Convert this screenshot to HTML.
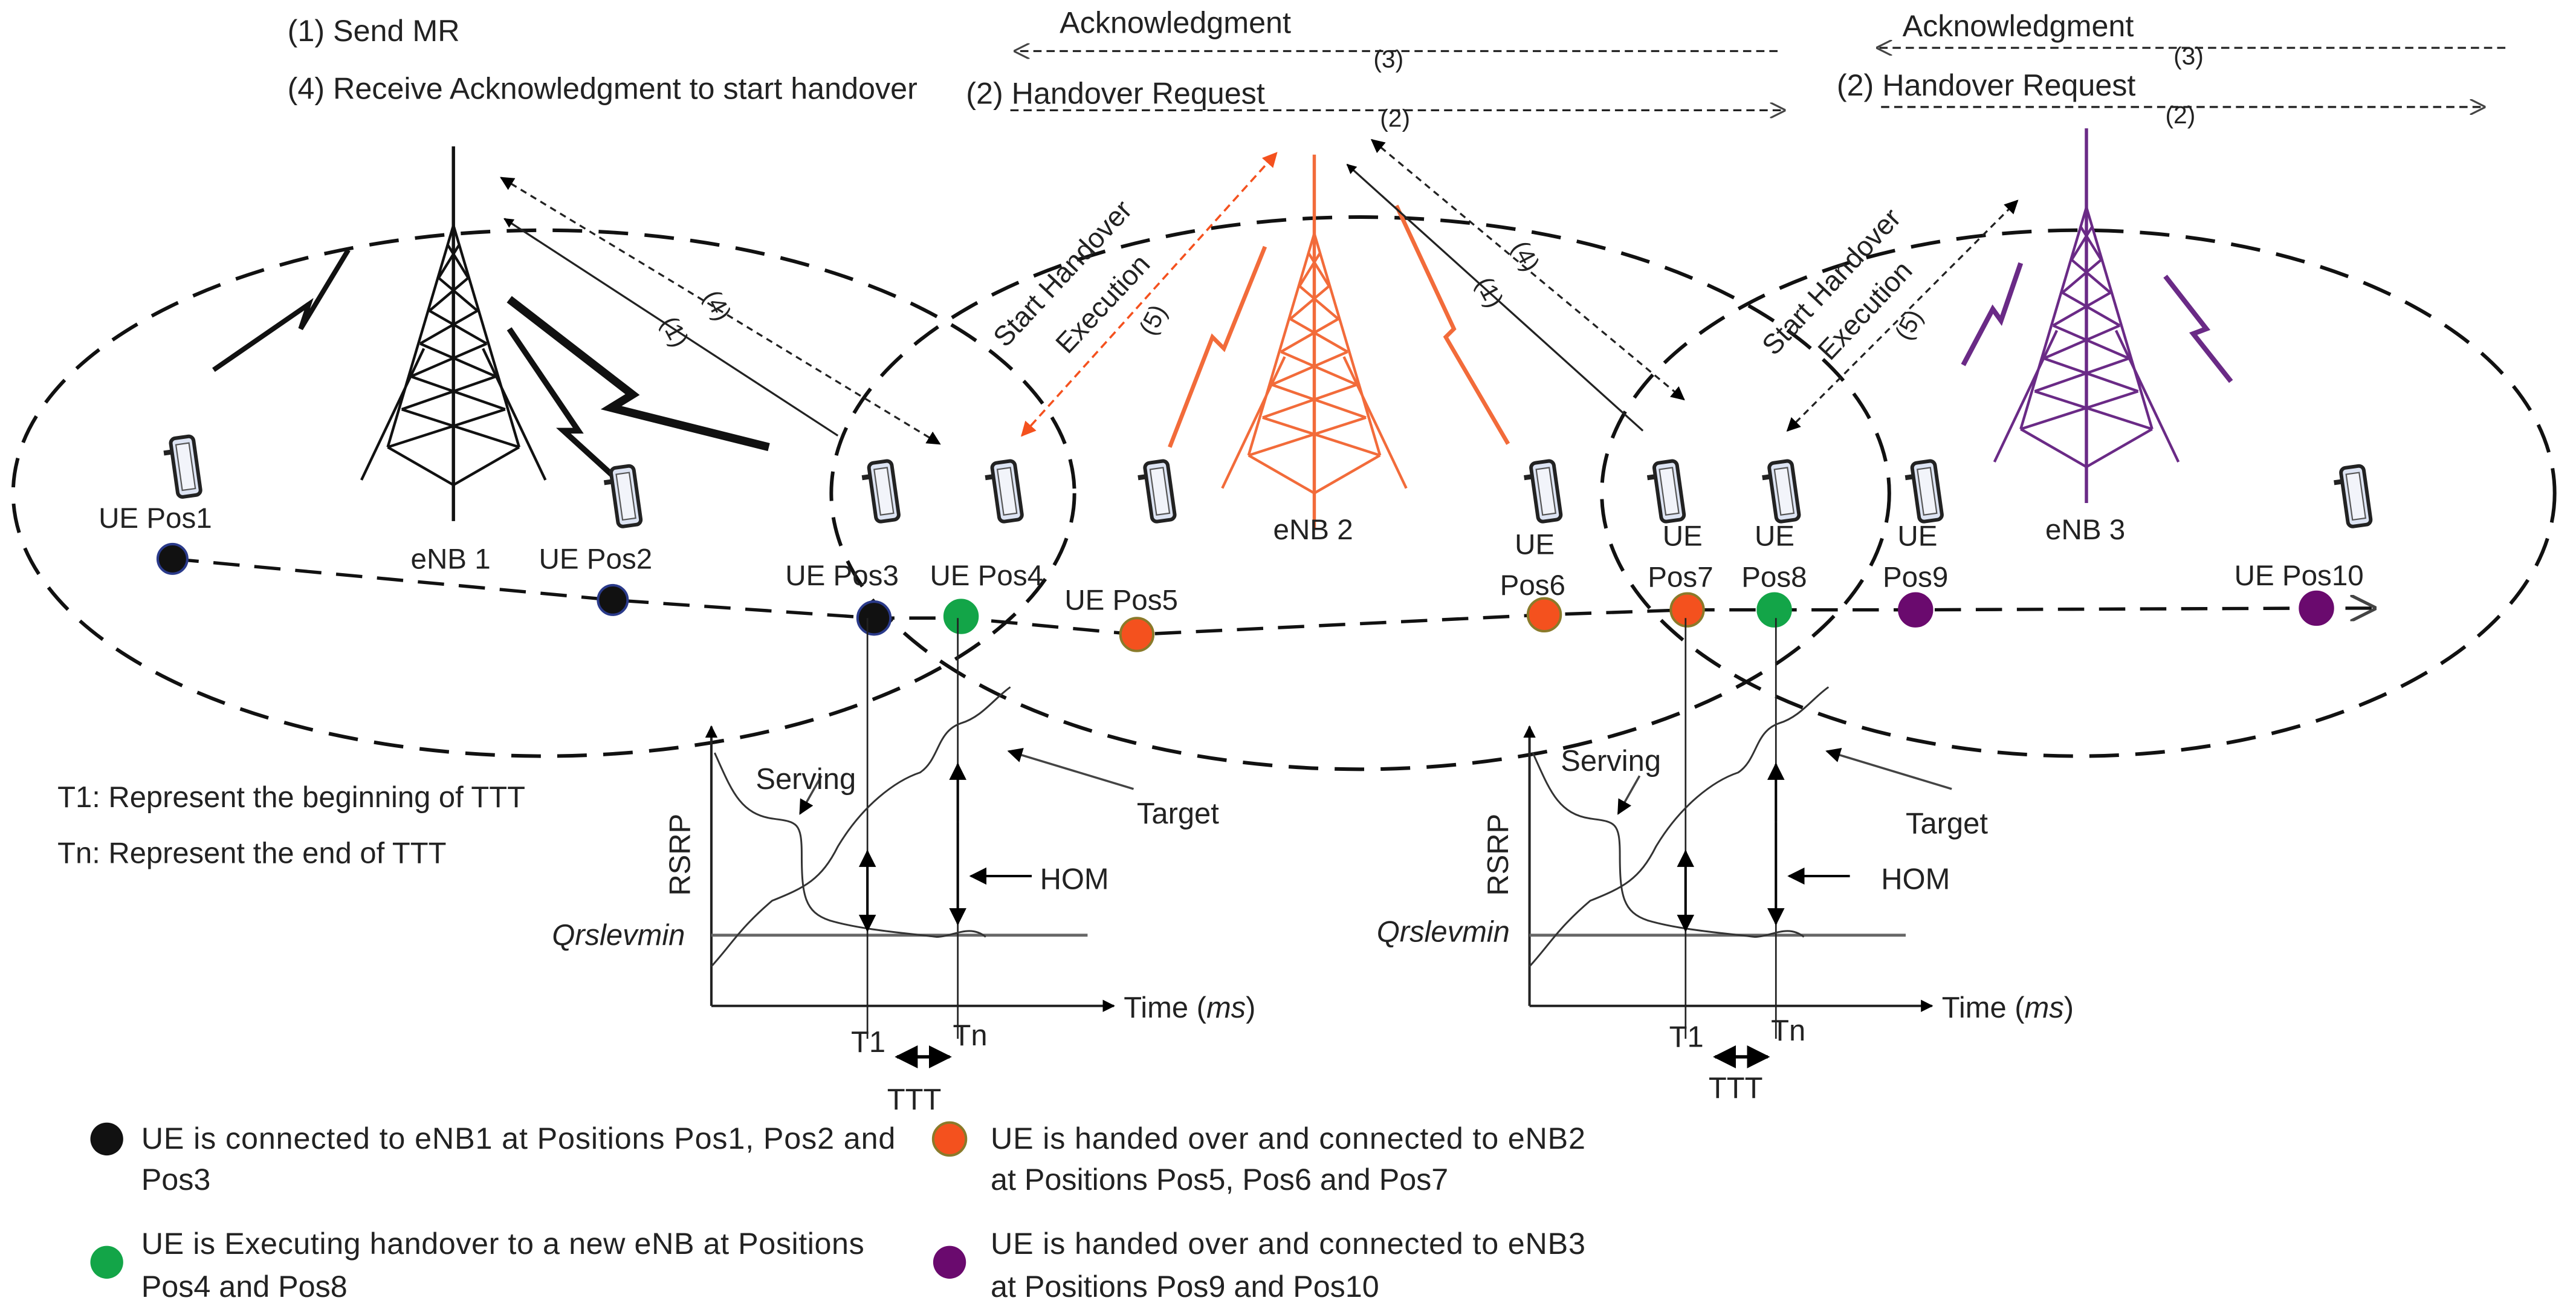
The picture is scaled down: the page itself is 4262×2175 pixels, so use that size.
<!DOCTYPE html>
<html><head><meta charset="utf-8"><style>
html,body{margin:0;padding:0;background:#fff}
svg{display:block}
text{font-family:"Liberation Sans",sans-serif;fill:#222}
</style></head><body>
<svg width="4262" height="2175" viewBox="0 0 1568 800" xmlns="http://www.w3.org/2000/svg">
<defs>
<marker id="ah" viewBox="0 0 10 10" refX="9" refY="5" markerWidth="7" markerHeight="7" orient="auto-start-reverse"><path d="M0,0L10,5L0,10z" fill="#000"/></marker>
<marker id="ahs" viewBox="0 0 10 10" refX="9" refY="5" markerWidth="5" markerHeight="5" orient="auto-start-reverse"><path d="M0,0L10,5L0,10z" fill="#000"/></marker>
<marker id="aho" viewBox="0 0 10 10" refX="9" refY="5" markerWidth="7" markerHeight="7" orient="auto-start-reverse"><path d="M0,0L10,5L0,10z" fill="#f4511e"/></marker>
<marker id="aopen" viewBox="0 0 10 10" refX="9" refY="5" markerWidth="8" markerHeight="8" orient="auto-start-reverse"><path d="M0,0L10,5L0,10" fill="none" stroke="#444" stroke-width="1.2"/></marker>
<symbol id="tower" overflow="visible" viewBox="-60 -60 120 250" width="120" height="250">
<g fill="none" stroke="currentColor" stroke-width="1.6">
<line x1="0" y1="-48" x2="0" y2="180" stroke-width="2"/>
<line x1="0" y1="0" x2="-40" y2="135"/><line x1="0" y1="0" x2="40" y2="135"/>
<polyline points="-40,135 0,158 40,135"/>
<line x1="-18" y1="75" x2="-56" y2="155"/><line x1="18" y1="75" x2="56" y2="155"/>
<path d="M-3.4,12L9,32M3.4,12L-9,32M-9,32L14.6,52M9,32L-14.6,52M-14.6,52L20.3,72M14.6,52L-20.3,72M-20.3,72L25.9,92M20.3,72L-25.9,92M-25.9,92L31.5,112M25.9,92L-31.5,112M-31.5,112L40,135M31.5,112L-40,135"/>
</g>
</symbol>
<symbol id="phone" overflow="visible" viewBox="-15 -22 30 44" width="30" height="44">
<g transform="rotate(-8)">
<rect x="-6" y="-18" width="14" height="36" rx="3" fill="#dde4f3" stroke="#222" stroke-width="2.2"/>
<rect x="-3" y="-14" width="8" height="28" fill="#f2f4fa" stroke="#555" stroke-width="0.8"/>
<line x1="-11" y1="-10" x2="-6" y2="-10" stroke="#222" stroke-width="3"/>
</g>
</symbol>
</defs>

<g fill="none" stroke="#111" stroke-width="2.2" stroke-dasharray="18,10">
<ellipse cx="331" cy="300" rx="323" ry="160"/>
<ellipse cx="828" cy="300" rx="322" ry="168"/>
<ellipse cx="1265" cy="300" rx="290" ry="160"/>
</g>

<use href="#tower" x="216" y="77" color="#111"/>
<use href="#tower" x="740" y="82" color="#f26b3a"/>
<use href="#tower" x="1210" y="66" color="#6a2a86"/>

<g fill="none" stroke="#111">
<polyline points="130,225 188,185 183,200 212,152" stroke-width="3"/>
<polyline points="310,182 385,240 372,248 468,272" stroke-width="5"/>
<polyline points="310,200 352,262 343,262 376,292" stroke-width="3.5"/>
</g>
<g fill="none" stroke="#f26b3a" stroke-width="2.5">
<polyline points="712,272 738,205 745,212 770,150"/>
<polyline points="850,125 885,200 880,205 918,270"/>
</g>
<g fill="none" stroke="#6a2a86" stroke-width="3">
<polyline points="1195,222 1213,188 1218,195 1230,160"/>
<polyline points="1318,168 1343,200 1335,203 1358,232"/>
</g>

<g font-size="18.5">
<text x="175" y="25">(1) Send MR</text>
<text x="175" y="60">(4) Receive Acknowledgment to start handover</text>
<text x="645" y="20">Acknowledgment</text>
<text x="588" y="63">(2) Handover Request</text>
<text x="1158" y="22">Acknowledgment</text>
<text x="1118" y="58">(2) Handover Request</text>
</g>
<line x1="1082" y1="31" x2="618" y2="31" stroke="#222" stroke-width="1.2" stroke-dasharray="5,3" marker-end="url(#aopen)"/>
<text x="836" y="41" font-size="15">(3)</text>
<line x1="615" y1="67" x2="1086" y2="67" stroke="#222" stroke-width="1.2" stroke-dasharray="5,3" marker-end="url(#aopen)"/>
<text x="840" y="77" font-size="15">(2)</text>
<line x1="1525" y1="29" x2="1143" y2="29" stroke="#222" stroke-width="1.2" stroke-dasharray="5,3" marker-end="url(#aopen)"/>
<text x="1323" y="39" font-size="15">(3)</text>
<line x1="1145" y1="65" x2="1512" y2="65" stroke="#222" stroke-width="1.2" stroke-dasharray="5,3" marker-end="url(#aopen)"/>
<text x="1318" y="75" font-size="15">(2)</text>

<line x1="305" y1="108" x2="572" y2="270" stroke="#222" stroke-width="1.2" stroke-dasharray="4,3" marker-start="url(#ah)" marker-end="url(#ah)"/>
<line x1="307" y1="133" x2="510" y2="265" stroke="#222" stroke-width="1.2" marker-start="url(#ahs)"/>
<text font-size="15" transform="translate(428,180) rotate(62)">(4)</text>
<text font-size="15" transform="translate(402,196) rotate(62)">(1)</text>
<line x1="622" y1="265" x2="777" y2="93" stroke="#f4511e" stroke-width="1.3" stroke-dasharray="5,3" marker-start="url(#aho)" marker-end="url(#aho)"/>
<text font-size="15" transform="translate(702,205) rotate(-62)">(5)</text>
<text font-size="17" transform="translate(612,212) rotate(-47)">Start Handover</text>
<text font-size="17" transform="translate(650,216) rotate(-47)">Execution</text>
<line x1="835" y1="85" x2="1025" y2="243" stroke="#222" stroke-width="1.2" stroke-dasharray="4,3" marker-start="url(#ah)" marker-end="url(#ah)"/>
<line x1="820" y1="100" x2="1000" y2="262" stroke="#222" stroke-width="1.2" marker-start="url(#ahs)"/>
<text font-size="15" transform="translate(920,150) rotate(62)">(4)</text>
<text font-size="15" transform="translate(898,172) rotate(62)">(1)</text>
<line x1="1088" y1="262" x2="1228" y2="122" stroke="#222" stroke-width="1.2" stroke-dasharray="4,3" marker-start="url(#ah)" marker-end="url(#ah)"/>
<text font-size="15" transform="translate(1162,208) rotate(-62)">(5)</text>
<text font-size="17" transform="translate(1080,217) rotate(-47)">Start Handover</text>
<text font-size="17" transform="translate(1114,220) rotate(-47)">Execution</text>

<use href="#phone" x="97" y="262"/>
<use href="#phone" x="365" y="280"/>
<use href="#phone" x="522" y="277"/>
<use href="#phone" x="597" y="277"/>
<use href="#phone" x="690" y="277"/>
<use href="#phone" x="925" y="277"/>
<use href="#phone" x="1000" y="277"/>
<use href="#phone" x="1070" y="277"/>
<use href="#phone" x="1157" y="277"/>
<use href="#phone" x="1418" y="280"/>

<g font-size="17.5">
<text x="250" y="346">eNB 1</text>
<text x="775" y="328">eNB 2</text>
<text x="1245" y="328">eNB 3</text>
</g>

<polyline points="105,340 373,365 532,376 585,376 692,386 940,374 1027,371 1080,371 1166,371 1410,370 1445,370" fill="none" stroke="#111" stroke-width="2" stroke-dasharray="16,9" marker-end="url(#aopen)"/>
<g stroke-width="1.5">
<circle cx="105" cy="340" r="9" fill="#111" stroke="#2a3a8a"/>
<circle cx="373" cy="365" r="9" fill="#111" stroke="#2a3a8a"/>
<circle cx="532" cy="376" r="10" fill="#111" stroke="#2a3a8a"/>
<circle cx="585" cy="375" r="10" fill="#13a548" stroke="#13a548"/>
<circle cx="692" cy="386" r="10" fill="#f4511e" stroke="#8a7a2a"/>
<circle cx="940" cy="374" r="10" fill="#f4511e" stroke="#8a7a2a"/>
<circle cx="1027" cy="371" r="10" fill="#f4511e" stroke="#8a7a2a"/>
<circle cx="1080" cy="371" r="10" fill="#13a548" stroke="#13a548"/>
<circle cx="1166" cy="371" r="10" fill="#6a0a6e" stroke="#6a0a6e"/>
<circle cx="1410" cy="370" r="10" fill="#6a0a6e" stroke="#6a0a6e"/>
</g>
<g font-size="17.5">
<text x="60" y="321">UE Pos1</text>
<text x="328" y="346">UE Pos2</text>
<text x="478" y="356">UE Pos3</text>
<text x="566" y="356">UE Pos4</text>
<text x="648" y="371">UE Pos5</text>
<text x="922" y="337">UE</text><text x="913" y="362">Pos6</text>
<text x="1012" y="332">UE</text><text x="1003" y="357">Pos7</text>
<text x="1068" y="332">UE</text><text x="1060" y="357">Pos8</text>
<text x="1155" y="332">UE</text><text x="1146" y="357">Pos9</text>
<text x="1360" y="356">UE Pos10</text>
</g>

<text x="35" y="491" font-size="18">T1: Represent the beginning of TTT</text>
<text x="35" y="525" font-size="18">Tn: Represent the end of TTT</text>

<g id="chartL">
<line x1="433" y1="612" x2="433" y2="442" stroke="#222" stroke-width="1.5" marker-end="url(#ahs)"/>
<line x1="433" y1="612" x2="678" y2="612" stroke="#222" stroke-width="1.5" marker-end="url(#ahs)"/>
<line x1="433" y1="569" x2="662" y2="569" stroke="#666" stroke-width="1.8"/>
<line x1="528" y1="376" x2="528" y2="632" stroke="#222" stroke-width="1"/>
<line x1="583" y1="376" x2="583" y2="632" stroke="#222" stroke-width="1"/>
<path d="M435,458 C445,480 450,495 470,498 C485,500 488,500 488,520 C488,545 490,555 505,560 C525,566 555,568 570,570 C580,570 590,562 600,570" fill="none" stroke="#333" stroke-width="1.1"/>
<path d="M433,588 C445,575 450,565 470,548 C490,540 500,535 510,515 C525,490 545,475 560,470 C572,462 570,445 585,440 C598,436 605,425 615,418" fill="none" stroke="#333" stroke-width="1.1"/>
<line x1="528" y1="540" x2="528" y2="518" stroke="#000" stroke-width="1.5" marker-end="url(#ah)"/>
<line x1="528" y1="540" x2="528" y2="566" stroke="#000" stroke-width="1.5" marker-end="url(#ah)"/>
<line x1="583" y1="500" x2="583" y2="465" stroke="#000" stroke-width="1.5" marker-end="url(#ah)"/>
<line x1="583" y1="500" x2="583" y2="562" stroke="#000" stroke-width="1.5" marker-end="url(#ah)"/>
<line x1="628" y1="533" x2="591" y2="533" stroke="#000" stroke-width="1.5" marker-end="url(#ah)"/>
<line x1="690" y1="480" x2="614" y2="457" stroke="#444" stroke-width="1.3" marker-end="url(#ah)"/>
<line x1="500" y1="472" x2="487" y2="495" stroke="#444" stroke-width="1.3" marker-end="url(#ah)"/>
<line x1="552" y1="643" x2="546" y2="643" stroke="#000" stroke-width="2" marker-end="url(#ah)"/>
<line x1="552" y1="643" x2="578" y2="643" stroke="#000" stroke-width="2" marker-end="url(#ah)"/>
</g>
<g font-size="18">
<text x="460" y="480">Serving</text>
<text x="692" y="501">Target</text>
<text x="633" y="541">HOM</text>
<text x="684" y="619">Time (<tspan font-style="italic">ms</tspan>)</text>
<text x="518" y="640">T1</text><text x="580" y="636">Tn</text>
<text x="540" y="675">TTT</text>
<text x="336" y="575" font-style="italic">Qrslevmin</text>
<text x="420" y="545" transform="rotate(-90 420 545)">RSRP</text>
</g>
<use href="#chartL" x="498" y="0"/>
<g font-size="18">
<text x="950" y="469">Serving</text>
<text x="1160" y="507">Target</text>
<text x="1145" y="541">HOM</text>
<text x="1182" y="619">Time (<tspan font-style="italic">ms</tspan>)</text>
<text x="1016" y="637">T1</text><text x="1078" y="633">Tn</text>
<text x="1040" y="668">TTT</text>
<text x="838" y="573" font-style="italic">Qrslevmin</text>
<text x="918" y="545" transform="rotate(-90 918 545)">RSRP</text>
</g>

<circle cx="65" cy="693" r="10" fill="#111"/>
<circle cx="65" cy="768" r="10" fill="#13a548"/>
<circle cx="578" cy="693" r="10" fill="#f4511e" stroke="#8a7a2a" stroke-width="1.5"/>
<circle cx="578" cy="768" r="10" fill="#6a0a6e"/>
<g font-size="18.5">
<text x="86" y="699" textLength="459">UE is connected to eNB1 at Positions  Pos1, Pos2 and</text>
<text x="86" y="724">Pos3</text>
<text x="86" y="763" textLength="440">UE is Executing handover to a new eNB at Positions</text>
<text x="86" y="789">Pos4 and Pos8</text>
<text x="603" y="699" textLength="362">UE is handed over and connected to eNB2</text>
<text x="603" y="724">at Positions Pos5, Pos6  and Pos7</text>
<text x="603" y="763" textLength="362">UE is handed over and connected to eNB3</text>
<text x="603" y="789">at Positions Pos9  and Pos10</text>
</g>
</svg>
</body></html>
